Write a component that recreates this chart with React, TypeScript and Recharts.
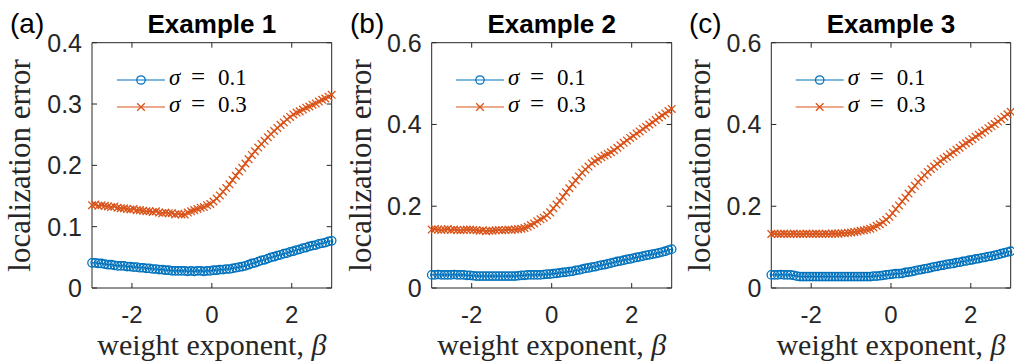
import React from 'react';
import { LineChart, Line, XAxis, YAxis, ReferenceArea } from 'recharts';

const BETA = [
  -3.00, -2.92, -2.84, -2.76, -2.68, -2.60, -2.52, -2.44, -2.36, -2.28,
  -2.20, -2.12, -2.04, -1.96, -1.88, -1.80, -1.72, -1.64, -1.56, -1.48,
  -1.40, -1.32, -1.24, -1.16, -1.08, -1.00, -0.92, -0.84, -0.76, -0.68,
  -0.60, -0.52, -0.44, -0.36, -0.28, -0.20, -0.12, -0.04, 0.04, 0.12,
  0.20, 0.28, 0.36, 0.44, 0.52, 0.60, 0.68, 0.76, 0.84, 0.92,
  1.00, 1.08, 1.16, 1.24, 1.32, 1.40, 1.48, 1.56, 1.64, 1.72,
  1.80, 1.88, 1.96, 2.04, 2.12, 2.20, 2.28, 2.36, 2.44, 2.52,
  2.60, 2.68, 2.76, 2.84, 2.92, 3.00,
];

const EX1_SIGMA01 = [
  0.041, 0.041, 0.040, 0.040, 0.039, 0.038, 0.038, 0.037, 0.036, 0.036,
  0.036, 0.035, 0.035, 0.034, 0.034, 0.033, 0.033, 0.032, 0.032, 0.031,
  0.031, 0.030, 0.030, 0.029, 0.029, 0.028, 0.028, 0.028, 0.028, 0.028,
  0.027, 0.028, 0.027, 0.028, 0.028, 0.027, 0.028, 0.028, 0.029, 0.029,
  0.030, 0.030, 0.031, 0.031, 0.032, 0.033, 0.034, 0.035, 0.036, 0.038,
  0.040, 0.041, 0.043, 0.045, 0.046, 0.048, 0.050, 0.051, 0.053, 0.054,
  0.056, 0.057, 0.059, 0.060, 0.062, 0.063, 0.065, 0.066, 0.068, 0.069,
  0.070, 0.072, 0.073, 0.074, 0.076, 0.077,
];
const EX1_SIGMA03 = [
  0.135, 0.136, 0.134, 0.135, 0.134, 0.133, 0.132, 0.133, 0.131, 0.130,
  0.130, 0.129, 0.128, 0.129, 0.127, 0.127, 0.126, 0.125, 0.125, 0.124,
  0.125, 0.123, 0.122, 0.123, 0.122, 0.122, 0.120, 0.121, 0.120, 0.120,
  0.123, 0.125, 0.127, 0.129, 0.131, 0.132, 0.135, 0.137, 0.141, 0.146,
  0.151, 0.157, 0.163, 0.169, 0.176, 0.183, 0.190, 0.196, 0.203, 0.210,
  0.217, 0.223, 0.229, 0.235, 0.240, 0.246, 0.251, 0.256, 0.261, 0.266,
  0.270, 0.275, 0.279, 0.283, 0.286, 0.288, 0.291, 0.294, 0.296, 0.299,
  0.301, 0.304, 0.307, 0.309, 0.312, 0.315,
];

const EX2_SIGMA01 = [
  0.032, 0.032, 0.033, 0.032, 0.032, 0.032, 0.032, 0.033, 0.032, 0.032,
  0.032, 0.031, 0.031, 0.030, 0.029, 0.029, 0.029, 0.029, 0.029, 0.029,
  0.029, 0.029, 0.029, 0.029, 0.029, 0.029, 0.029, 0.030, 0.031, 0.031,
  0.032, 0.032, 0.032, 0.032, 0.032, 0.033, 0.034, 0.034, 0.035, 0.036,
  0.037, 0.038, 0.039, 0.040, 0.041, 0.043, 0.044, 0.046, 0.048, 0.049,
  0.051, 0.052, 0.054, 0.056, 0.057, 0.059, 0.061, 0.063, 0.065, 0.066,
  0.068, 0.070, 0.071, 0.073, 0.075, 0.076, 0.078, 0.080, 0.081, 0.083,
  0.084, 0.086, 0.088, 0.090, 0.093, 0.095,
];
const EX2_SIGMA03 = [
  0.143, 0.144, 0.143, 0.142, 0.143, 0.144, 0.142, 0.143, 0.142, 0.141,
  0.142, 0.143, 0.143, 0.142, 0.141, 0.140, 0.141, 0.139, 0.140, 0.140,
  0.141, 0.142, 0.141, 0.142, 0.143, 0.142, 0.143, 0.144, 0.145, 0.147,
  0.150, 0.154, 0.158, 0.163, 0.168, 0.172, 0.178, 0.185, 0.195, 0.204,
  0.213, 0.223, 0.234, 0.244, 0.254, 0.263, 0.273, 0.282, 0.290, 0.297,
  0.305, 0.310, 0.315, 0.320, 0.324, 0.328, 0.332, 0.337, 0.343, 0.349,
  0.355, 0.361, 0.367, 0.372, 0.378, 0.383, 0.389, 0.394, 0.400, 0.405,
  0.411, 0.417, 0.422, 0.427, 0.433, 0.438,
];

const EX3_SIGMA01 = [
  0.032, 0.032, 0.032, 0.033, 0.032, 0.032, 0.032, 0.031, 0.029, 0.028,
  0.028, 0.028, 0.028, 0.028, 0.028, 0.028, 0.028, 0.028, 0.028, 0.028,
  0.028, 0.028, 0.028, 0.028, 0.028, 0.028, 0.028, 0.028, 0.028, 0.028,
  0.028, 0.028, 0.029, 0.029, 0.030, 0.031, 0.032, 0.033, 0.034, 0.035,
  0.035, 0.036, 0.038, 0.039, 0.040, 0.042, 0.044, 0.045, 0.047, 0.048,
  0.050, 0.052, 0.053, 0.055, 0.056, 0.058, 0.059, 0.060, 0.062, 0.063,
  0.065, 0.066, 0.068, 0.069, 0.071, 0.072, 0.074, 0.075, 0.077, 0.078,
  0.080, 0.082, 0.084, 0.086, 0.088, 0.090,
];
const EX3_SIGMA03 = [
  0.132, 0.133, 0.132, 0.132, 0.133, 0.132, 0.132, 0.133, 0.132, 0.132,
  0.132, 0.133, 0.132, 0.132, 0.133, 0.132, 0.132, 0.133, 0.132, 0.133,
  0.133, 0.133, 0.134, 0.134, 0.135, 0.136, 0.137, 0.138, 0.140, 0.141,
  0.143, 0.145, 0.148, 0.152, 0.156, 0.161, 0.167, 0.174, 0.183, 0.193,
  0.202, 0.212, 0.221, 0.231, 0.241, 0.250, 0.259, 0.268, 0.276, 0.284,
  0.291, 0.297, 0.304, 0.310, 0.316, 0.321, 0.327, 0.332, 0.338, 0.343,
  0.349, 0.354, 0.359, 0.364, 0.370, 0.375, 0.380, 0.385, 0.391, 0.396,
  0.401, 0.407, 0.413, 0.419, 0.425, 0.431,
];

const X_TICKS = [-2, 0, 2];
const Y_TICKS_1 = [0, 0.1, 0.2, 0.3, 0.4];
const Y_TICKS_23 = [0, 0.2, 0.4, 0.6];
const TITLES = ['Example 1', 'Example 2', 'Example 3'];
const PANEL_TAGS = ['(a)', '(b)', '(c)'];
const LEGEND_VALUES = ['0.1', '0.3'];
const Y_LABEL = 'localization error';
const X_LABEL = 'weight exponent, ';

const BLUE = '#0072BD';
const ORANGE = '#D95319';
const AXIS = '#262626';
const SANS = '"Liberation Sans", Arial, Helvetica, sans-serif';
const SERIF = '"Liberation Serif", "Times New Roman", serif';

const CHART_W = 340;
const CHART_H = 361;
const PLOT_TOP = 42.7;
const PLOT_BOTTOM = 288;
const TICK_LEN = 5;

type PanelCfg = {
  offset: number;
  plotLeft: number;
  plotRight: number;
  yMax: number;
  yTicks: number[];
  low: number[];
  high: number[];
  tagX: number;
  yLabelX: number;
  legendLine0: number;
};

const PANELS: PanelCfg[] = [
  { offset: 0, plotLeft: 92, plotRight: 331.7, yMax: 0.4, yTicks: Y_TICKS_1, low: EX1_SIGMA01, high: EX1_SIGMA03, tagX: 10, yLabelX: 30.5, legendLine0: 117 },
  { offset: 340, plotLeft: 91.7, plotRight: 331.7, yMax: 0.6, yTicks: Y_TICKS_23, low: EX2_SIGMA01, high: EX2_SIGMA03, tagX: 10, yLabelX: 30.7, legendLine0: 116 },
  { offset: 674, plotLeft: 97.3, plotRight: 336.7, yMax: 0.6, yTicks: Y_TICKS_23, low: EX3_SIGMA01, high: EX3_SIGMA03, tagX: 15, yLabelX: 36.5, legendLine0: 121.7 },
];

const fmt = (v: number) => (v === 0 ? '0' : String(v));

function XMark({ cx, cy, color, s = 3.8 }: { cx: number; cy: number; color: string; s?: number }) {
  return (
    <path
      d={`M${cx - s},${cy - s}L${cx + s},${cy + s}M${cx - s},${cy + s}L${cx + s},${cy - s}`}
      stroke={color}
      strokeWidth={1.3}
      fill="none"
    />
  );
}

function Panel({ cfg }: { cfg: PanelCfg }) {
  const plotH = PLOT_BOTTOM - PLOT_TOP;
  const plotW = cfg.plotRight - cfg.plotLeft;
  const data = BETA.map((b, i) => ({ beta: b, low: cfg.low[i], high: cfg.high[i] }));

  const renderXTick = (p: any) => {
    const { x, y, payload } = p;
    return (
      <g>
        <line x1={x} x2={x} y1={y} y2={y - TICK_LEN} stroke={AXIS} strokeWidth={1} />
        <line x1={x} x2={x} y1={y - plotH} y2={y - plotH + TICK_LEN} stroke={AXIS} strokeWidth={1} />
        <text x={x} y={y + 35} textAnchor="middle" fontSize={24} fontFamily={SANS} fill={AXIS}>
          {fmt(payload.value)}
        </text>
      </g>
    );
  };
  const renderYTick = (p: any) => {
    const { x, y, payload } = p;
    return (
      <g>
        <line x1={x} x2={x + TICK_LEN} y1={y} y2={y} stroke={AXIS} strokeWidth={1} />
        <line x1={x + plotW} x2={x + plotW - TICK_LEN} y1={y} y2={y} stroke={AXIS} strokeWidth={1} />
        <text x={x - 10} y={y + 9} textAnchor="end" fontSize={25} fontFamily={SANS} fill={AXIS}>
          {fmt(payload.value)}
        </text>
      </g>
    );
  };

  return (
    <div style={{ position: 'absolute', left: cfg.offset, top: 0, width: CHART_W, height: CHART_H }}>
      <LineChart
        width={CHART_W}
        height={CHART_H}
        data={data}
        margin={{ top: PLOT_TOP, right: CHART_W - cfg.plotRight, bottom: 0, left: 0 }}
      >
        <XAxis
          dataKey="beta"
          type="number"
          domain={[-3, 3]}
          ticks={X_TICKS}
          interval={0}
          height={CHART_H - PLOT_BOTTOM}
          tickSize={0}
          tickMargin={0}
          tickLine={false}
          axisLine={false}
          tick={renderXTick}
        />
        <YAxis
          type="number"
          domain={[0, cfg.yMax]}
          ticks={cfg.yTicks}
          interval={0}
          width={cfg.plotLeft}
          tickSize={0}
          tickMargin={0}
          tickLine={false}
          axisLine={false}
          tick={renderYTick}
        />
        <ReferenceArea x1={-3} x2={3} y1={0} y2={cfg.yMax} fill="none" stroke={AXIS} strokeWidth={1} />
        <Line
          dataKey="low"
          stroke={BLUE}
          strokeWidth={1.2}
          isAnimationActive={false}
          activeDot={false}
          dot={{ r: 4.2, fill: 'none', stroke: BLUE, strokeWidth: 1.3 }}
        />
        <Line
          dataKey="high"
          stroke={ORANGE}
          strokeWidth={1.2}
          isAnimationActive={false}
          activeDot={false}
          dot={(p: any) => <XMark key={`x-${p.index}`} cx={p.cx} cy={p.cy} color={ORANGE} />}
        />
      </LineChart>
    </div>
  );
}

function Overlay() {
  return (
    <svg width={1014} height={361} style={{ position: 'absolute', left: 0, top: 0, pointerEvents: 'none' }}>
      {PANELS.map((cfg, i) => {
        const cx = cfg.offset + (cfg.plotLeft + cfg.plotRight) / 2;
        const cy = (PLOT_TOP + PLOT_BOTTOM) / 2;
        const yl = cfg.offset + cfg.yLabelX;
        const l0 = cfg.offset + cfg.legendLine0;
        const textX = l0 + 52;
        return (
          <g key={i}>
            <text x={cfg.offset + cfg.tagX} y={33} fontSize={28} fontFamily={SANS} fill="#000">
              {PANEL_TAGS[i]}
            </text>
            <text x={cx} y={33} textAnchor="middle" fontSize={26} fontWeight="bold" fontFamily={SANS} fill="#000">
              {TITLES[i]}
            </text>
            <text
              x={yl}
              y={cy}
              transform={`rotate(-90 ${yl} ${cy})`}
              textAnchor="middle"
              fontSize={31}
              fontFamily={SERIF}
              fill={AXIS}
            >
              {Y_LABEL}
            </text>
            <text x={cx} y={355} textAnchor="middle" fontSize={30} fontFamily={SERIF} fill={AXIS}>
              {X_LABEL}
              <tspan fontStyle="italic">β</tspan>
            </text>
            {LEGEND_VALUES.map((v, j) => {
              const ly = 80 + j * 27;
              const col = j === 0 ? BLUE : ORANGE;
              return (
                <g key={j}>
                  <line x1={l0} x2={l0 + 48} y1={ly} y2={ly} stroke={col} strokeWidth={1.2} />
                  {j === 0 ? (
                    <circle cx={l0 + 24} cy={ly} r={4.2} fill="none" stroke={col} strokeWidth={1.3} />
                  ) : (
                    <XMark cx={l0 + 24} cy={ly} color={col} />
                  )}
                  <text x={textX} y={ly + 4.5} fontSize={23} fontFamily={SERIF} fontStyle="italic" fill="#000">
                    σ
                  </text>
                  <text x={textX + 29} y={ly + 4.5} textAnchor="middle" fontSize={25} fontFamily={SERIF} fill="#000">
                    =
                  </text>
                  <text x={textX + 49} y={ly + 4.5} fontSize={23} fontFamily={SERIF} fill="#000">
                    {v}
                  </text>
                </g>
              );
            })}
          </g>
        );
      })}
    </svg>
  );
}

export default function App() {
  return (
    <div
      style={{
        position: 'absolute',
        left: 0,
        top: 0,
        width: 1014,
        height: 361,
        background: '#fff',
        overflow: 'hidden',
      }}
    >
      {PANELS.map((cfg, i) => (
        <Panel key={i} cfg={cfg} />
      ))}
      <Overlay />
    </div>
  );
}
